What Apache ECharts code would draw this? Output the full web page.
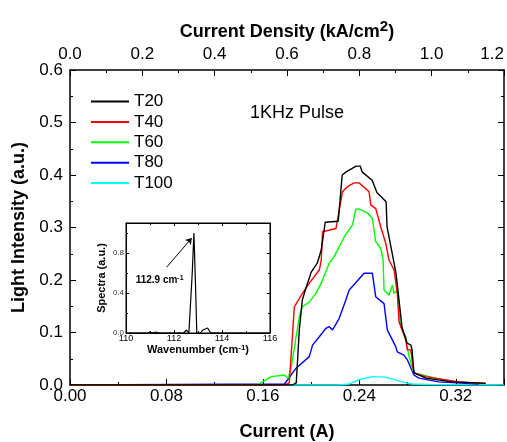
<!DOCTYPE html>
<html>
<head>
<meta charset="utf-8">
<script src="https://cdn.jsdelivr.net/npm/echarts@6/dist/echarts.min.js"></script>
<style>
html, body { margin: 0; padding: 0; background: #fff; overflow: hidden; }
#chart { width: 507px; height: 442px; }
</style>
</head>
<body>
<div id="chart"></div>
<script>
// main plot: light intensity vs drive current
var seriesNames = ['T20', 'T40', 'T60', 'T80', 'T100'];

var currentT20 = [0, 0.1844, 0.1877, 0.1902, 0.1927, 0.1952, 0.2001, 0.2051, 0.2084, 0.2117, 0.2225, 0.2258, 0.2291, 0.2373, 0.2407, 0.2423, 0.2506, 0.2547, 0.2622, 0.2630, 0.2663, 0.2704, 0.2729, 0.2754, 0.2795, 0.2828, 0.2837, 0.2853, 0.2952, 0.3167, 0.3366, 0.3449];
var intensityT20 = [0, 0, 0.004, 0.105, 0.162, 0.181, 0.215, 0.232, 0.257, 0.310, 0.312, 0.400, 0.406, 0.417, 0.417, 0.406, 0.390, 0.366, 0.349, 0.301, 0.262, 0.213, 0.162, 0.110, 0.080, 0.076, 0.067, 0.023, 0.013, 0.006, 0.004, 0.003];

var currentT40 = [0, 0.1780, 0.1819, 0.1861, 0.1919, 0.1985, 0.2068, 0.2084, 0.2095, 0.2206, 0.2260, 0.2302, 0.2357, 0.2398, 0.2481, 0.2495, 0.2536, 0.2578, 0.2619, 0.2646, 0.2688, 0.2715, 0.2729, 0.2785, 0.2798, 0.2826, 0.2853, 0.2950, 0.3225, 0.3446];
var intensityT40 = [0, 0, 0.004, 0.149, 0.171, 0.194, 0.219, 0.238, 0.292, 0.298, 0.368, 0.378, 0.385, 0.385, 0.368, 0.343, 0.336, 0.301, 0.270, 0.238, 0.219, 0.175, 0.121, 0.086, 0.067, 0.067, 0.023, 0.016, 0.006, 0.003];

var currentT60 = [0, 0.1555, 0.1596, 0.1671, 0.1778, 0.1811, 0.1836, 0.1902, 0.1927, 0.1985, 0.2040, 0.2084, 0.2150, 0.2192, 0.2274, 0.2343, 0.2371, 0.2398, 0.2467, 0.2508, 0.2536, 0.2578, 0.2597, 0.2605, 0.2646, 0.2674, 0.2688, 0.2715, 0.2743, 0.2785, 0.2812, 0.2853, 0.3033, 0.3198, 0.3446];
var intensityT60 = [0, 0, 0.006, 0.016, 0.019, 0.013, 0.035, 0.130, 0.149, 0.158, 0.175, 0.194, 0.232, 0.245, 0.282, 0.305, 0.335, 0.335, 0.328, 0.317, 0.273, 0.260, 0.238, 0.181, 0.171, 0.190, 0.174, 0.181, 0.111, 0.092, 0.054, 0.023, 0.013, 0.006, 0.003];

var currentT80 = [0, 0.1778, 0.1805, 0.1875, 0.1985, 0.2012, 0.2068, 0.2123, 0.2150, 0.2178, 0.2233, 0.2288, 0.2316, 0.2440, 0.2508, 0.2536, 0.2605, 0.2632, 0.2702, 0.2715, 0.2770, 0.2798, 0.2853, 0.2894, 0.3060, 0.3391];
var intensityT80 = [0, 0.002, 0.010, 0.032, 0.054, 0.076, 0.092, 0.108, 0.111, 0.105, 0.127, 0.162, 0.181, 0.213, 0.213, 0.168, 0.155, 0.105, 0.073, 0.063, 0.057, 0.048, 0.019, 0.013, 0.006, 0.002];

var currentT100 = [0, 0.2233, 0.2316, 0.2398, 0.2506, 0.2619, 0.2754, 0.2837, 0.2977, 0.36];
var intensityT100 = [0, 0, 0.002, 0.010, 0.016, 0.015, 0.006, 0.002, 0.001, 0];

// inset: emission spectrum
var wavenumber = [110, 110.9, 111.0, 111.1, 111.25, 111.35, 111.45, 112.4, 112.52, 112.62, 112.7, 112.76, 112.83, 112.9, 112.95, 113.1, 113.2, 113.28, 113.4, 113.5, 113.6, 116];
var spectra = [0, 0, 0.01, 0, 0.01, 0, 0, 0, 0.03, 0, 0, 0.6, 1.0, 0.45, 0, 0, 0.03, 0.01, 0.05, 0.01, 0, 0];

var peakLabel = '112.9';
var arrowFrom = [111.7, 0.66];
var arrowTo = [112.74, 0.95];
var peakLabelAt = [111.4, 0.53];

var colors = ['#000000', '#ff0000', '#00ff00', '#0000ff', '#00ffff'];

function zip(xs, ys) {
    return xs.map(function (x, i) { return [x, ys[i]]; });
}

var currents = [currentT20, currentT40, currentT60, currentT80, currentT100];
var intensities = [intensityT20, intensityT40, intensityT60, intensityT80, intensityT100];

var chart = echarts.init(document.getElementById('chart'));

var frame = { show: true, onZero: false, lineStyle: { color: '#000', width: 1.5 } };
var tickIn = { show: true, inside: true, length: 6, lineStyle: { color: '#000', width: 1 } };
var minorIn = { show: true, splitNumber: 2, length: 3, lineStyle: { color: '#000', width: 1 } };
var insetLine = { show: true, onZero: false, lineStyle: { color: '#000', width: 1 } };
var insetTick = { show: true, inside: true, length: 3, lineStyle: { color: '#000' } };
var insetMinor = { show: true, splitNumber: 2, length: 2, lineStyle: { color: '#000' } };

var mainSeries = seriesNames.map(function (name, i) {
    return {
        name: name,
        type: 'line',
        xAxisIndex: 0,
        yAxisIndex: 0,
        data: zip(currents[i], intensities[i]),
        showSymbol: false,
        symbol: 'none',
        lineStyle: { color: colors[i], width: 1.4 },
        itemStyle: { color: colors[i] },
        z: 10 - i
    };
});

var option = {
    animation: false,
    textStyle: { fontFamily: 'Liberation Sans' },
    title: {
        text: '1KHz Pulse',
        left: 245,
        top: 99,
        textStyle: { fontSize: 18, fontWeight: 'normal', color: '#000', fontFamily: 'Liberation Sans' }
    },
    legend: {
        data: seriesNames,
        orient: 'vertical',
        left: 86,
        top: 88,
        icon: 'rect',
        itemWidth: 38,
        itemHeight: 2,
        itemGap: 3.4,
        textStyle: { fontSize: 17, color: '#000', fontFamily: 'Liberation Sans' }
    },
    grid: [
        { left: 70, top: 70, right: 3, bottom: 57, outerBoundsMode: 'none', containLabel: false },
        { left: 126, top: 223, width: 144, height: 110, outerBoundsMode: 'none', containLabel: false,
          show: true, backgroundColor: '#fff', borderColor: '#000', borderWidth: 1 }
    ],
    xAxis: [
        {
            gridIndex: 0, type: 'value', position: 'bottom',
            min: 0, max: 0.36, interval: 0.08,
            name: 'Current (A)', nameLocation: 'middle', nameGap: 38,
            nameTextStyle: { fontSize: 18, fontWeight: 'bold', color: '#000' },
            axisLine: frame, axisTick: tickIn, minorTick: minorIn,
            axisLabel: { fontSize: 17, color: '#000', margin: 3, showMaxLabel: false,
                formatter: function (v) { return v.toFixed(2); } },
            splitLine: { show: false }
        },
        {
            gridIndex: 0, type: 'value', position: 'top',
            min: 0, max: 1.2, interval: 0.2,
            name: '{t|Current Density (kA/cm}{sup|2}{t|)}', nameLocation: 'middle', nameGap: 28,
            nameTextStyle: {
                fontSize: 18, fontWeight: 'bold', color: '#000',
                rich: {
                    t: { fontSize: 18, fontWeight: 'bold', color: '#000', verticalAlign: 'bottom' },
                    sup: { fontSize: 15, fontWeight: 'bold', color: '#000', verticalAlign: 'bottom', padding: [0, 0, 7, 0] }
                }
            },
            axisLine: frame, axisTick: tickIn, minorTick: minorIn,
            axisLabel: { fontSize: 17, color: '#000', margin: 7, alignMaxLabel: 'right',
                formatter: function (v) { return v.toFixed(1); } },
            splitLine: { show: false }
        },
        {
            gridIndex: 1, type: 'value', position: 'bottom',
            min: 110, max: 116, interval: 2,
            name: 'Wavenumber (cm{sup|-1})', nameLocation: 'middle', nameGap: 11,
            nameTextStyle: { fontSize: 11, fontWeight: 'bold', color: '#000',
                rich: { sup: { fontSize: 8, fontWeight: 'bold', verticalAlign: 'top', color: '#000' } } },
            axisLine: insetLine, axisTick: insetTick, minorTick: insetMinor,
            axisLabel: { fontSize: 9, color: '#000', margin: 1 },
            splitLine: { show: false }
        },
        {
            gridIndex: 1, type: 'value', position: 'top',
            min: 110, max: 116, interval: 2,
            axisLine: insetLine, axisTick: insetTick, minorTick: insetMinor,
            axisLabel: { show: false },
            splitLine: { show: false }
        }
    ],
    yAxis: [
        {
            gridIndex: 0, type: 'value', position: 'left',
            min: 0, max: 0.6, interval: 0.1,
            name: 'Light Intensity (a.u.)', nameLocation: 'middle', nameGap: 42,
            nameTextStyle: { fontSize: 18, fontWeight: 'bold', color: '#000' },
            axisLine: frame, axisTick: tickIn, minorTick: minorIn,
            axisLabel: { fontSize: 17, color: '#000', margin: 7,
                formatter: function (v) { return v.toFixed(1); } },
            splitLine: { show: false }
        },
        {
            gridIndex: 0, type: 'value', position: 'right',
            min: 0, max: 0.6, interval: 0.1,
            axisLine: frame, axisTick: tickIn, minorTick: minorIn,
            axisLabel: { show: false },
            splitLine: { show: false }
        },
        {
            gridIndex: 1, type: 'value', position: 'left',
            min: 0, max: 1.1, interval: 0.4,
            name: 'Spectra (a.u.)', nameLocation: 'middle', nameGap: 19,
            nameTextStyle: { fontSize: 11, fontWeight: 'bold', color: '#000' },
            axisLine: insetLine, axisTick: insetTick, minorTick: insetMinor,
            axisLabel: { fontSize: 8, color: '#333', margin: 2, showMaxLabel: false,
                formatter: function (v) { return v.toFixed(1); } },
            splitLine: { show: false }
        },
        {
            gridIndex: 1, type: 'value', position: 'right',
            min: 0, max: 1.1, interval: 0.4,
            axisLine: insetLine, axisTick: insetTick, minorTick: insetMinor,
            axisLabel: { show: false },
            splitLine: { show: false }
        }
    ],
    series: mainSeries.concat([{
        name: 'spectrum',
        type: 'line',
        xAxisIndex: 2,
        yAxisIndex: 2,
        data: zip(wavenumber, spectra),
        showSymbol: false,
        symbol: 'none',
        lineStyle: { color: '#000', width: 1.2 },
        z: 30,
        markLine: {
            silent: true,
            z: 31,
            symbol: ['none', 'arrow'],
            symbolSize: 6,
            lineStyle: { color: '#000', width: 1, type: 'solid' },
            label: { show: false },
            data: [[{ coord: arrowFrom }, { coord: arrowTo }]]
        },
        markPoint: {
            silent: true,
            z: 31,
            symbol: 'circle',
            symbolSize: 0,
            data: [{ coord: peakLabelAt }],
            label: {
                show: true,
                position: 'inside',
                formatter: '{a|' + peakLabel + ' cm}{s|-1}',
                rich: {
                    a: { fontSize: 10, fontWeight: 'bold', color: '#000' },
                    s: { fontSize: 7, fontWeight: 'bold', color: '#000', verticalAlign: 'top' }
                }
            }
        }
    }])
};

chart.setOption(option);
</script>
</body>
</html>
